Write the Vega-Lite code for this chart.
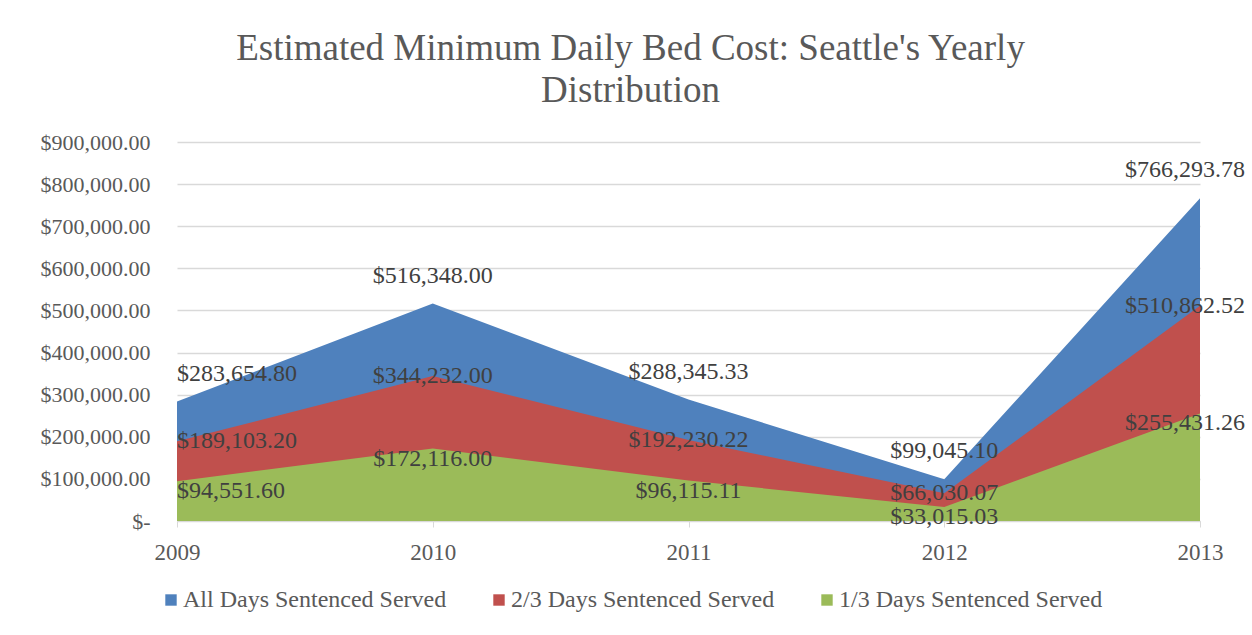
{
  "$schema": "https://vega.github.io/schema/vega-lite/v6.json",
  "width": 1023,
  "height": 379,
  "autosize": {"type": "none"},
  "padding": {"left": 177, "top": 142, "right": 52, "bottom": 114},
  "background": "white",
  "config": {
    "font": "Times New Roman",
    "view": {"stroke": null},
    "text": {"font": "Times New Roman"},
    "axis": {"labelFont": "Times New Roman"},
    "legend": {"labelFont": "Times New Roman"}
  },
  "title": {
    "text": ["Estimated Minimum Daily Bed Cost: Seattle's Yearly", "Distribution"],
    "fontSize": 37,
    "font": "Times New Roman",
    "fontWeight": "normal",
    "color": "#595959",
    "anchor": "middle",
    "dx": -58,
    "offset": 21,
    "lineHeight": 42
  },
  "data": {
    "values": [
      {"year": "2009", "series": "All Days Sentenced Served", "value": 283654.80},
      {"year": "2010", "series": "All Days Sentenced Served", "value": 516348.00},
      {"year": "2011", "series": "All Days Sentenced Served", "value": 288345.33},
      {"year": "2012", "series": "All Days Sentenced Served", "value": 99045.10},
      {"year": "2013", "series": "All Days Sentenced Served", "value": 766293.78},
      {"year": "2009", "series": "2/3 Days Sentenced Served", "value": 189103.20},
      {"year": "2010", "series": "2/3 Days Sentenced Served", "value": 344232.00},
      {"year": "2011", "series": "2/3 Days Sentenced Served", "value": 192230.22},
      {"year": "2012", "series": "2/3 Days Sentenced Served", "value": 66030.07},
      {"year": "2013", "series": "2/3 Days Sentenced Served", "value": 510862.52},
      {"year": "2009", "series": "1/3 Days Sentenced Served", "value": 94551.60},
      {"year": "2010", "series": "1/3 Days Sentenced Served", "value": 172116.00},
      {"year": "2011", "series": "1/3 Days Sentenced Served", "value": 96115.11},
      {"year": "2012", "series": "1/3 Days Sentenced Served", "value": 33015.03},
      {"year": "2013", "series": "1/3 Days Sentenced Served", "value": 255431.26}
    ]
  },
  "encoding": {
    "x": {
      "field": "year",
      "type": "ordinal",
      "scale": {"type": "point", "padding": 0},
      "axis": {
        "title": null,
        "labelAngle": 0,
        "labelFontSize": 23,
        "labelColor": "#595959",
        "labelPadding": 14,
        "domainColor": "#D9D9D9",
        "tickColor": "#D9D9D9",
        "tickSize": 6,
        "grid": false
      }
    },
    "y": {
      "field": "value",
      "type": "quantitative",
      "stack": null,
      "scale": {"domain": [0, 900000], "nice": false},
      "axis": {
        "title": null,
        "values": [0, 100000, 200000, 300000, 400000, 500000, 600000, 700000, 800000, 900000],
        "labelExpr": "datum.value == 0 ? '$-' : '$' + format(datum.value, ',.2f')",
        "labelFontSize": 22,
        "labelColor": "#595959",
        "labelPadding": 27,
        "ticks": false,
        "domain": false,
        "gridColor": "#D9D9D9",
        "gridWidth": 1.3
      }
    }
  },
  "layer": [
    {
      "mark": {"type": "area", "opacity": 1},
      "encoding": {
        "color": {
          "field": "series",
          "type": "nominal",
          "scale": {
            "domain": ["All Days Sentenced Served", "2/3 Days Sentenced Served", "1/3 Days Sentenced Served"],
            "range": ["#4F81BD", "#C0504D", "#9BBB59"]
          },
          "sort": null,
          "legend": {
            "title": null,
            "orient": "none",
            "direction": "horizontal",
            "legendX": -18,
            "legendY": 446,
            "symbolType": "square",
            "symbolSize": 130,
            "symbolStrokeWidth": 0,
            "symbolOpacity": 1,
            "labelFontSize": 24,
            "labelFont": "Times New Roman",
            "labelColor": "#595959",
            "labelOffset": 0,
            "columnPadding": 40,
            "labelLimit": 400
          }
        }
      }
    },
    {
      "mark": {
        "type": "text",
        "font": "Times New Roman",
        "fontSize": 24,
        "color": "#404040",
        "baseline": "middle",
        "align": {"expr": "datum.year == '2009' ? 'left' : datum.year == '2013' ? 'right' : 'center'"},
        "dx": {"expr": "datum.year == '2013' ? 45 : 0"},
        "dy": {"expr": "datum.series == 'All Days Sentenced Served' ? -28 : datum.series == '1/3 Days Sentenced Served' ? 10 : 0"}
      },
      "encoding": {
        "text": {"field": "value", "type": "quantitative", "format": "$,.2f"}
      }
    }
  ]
}
